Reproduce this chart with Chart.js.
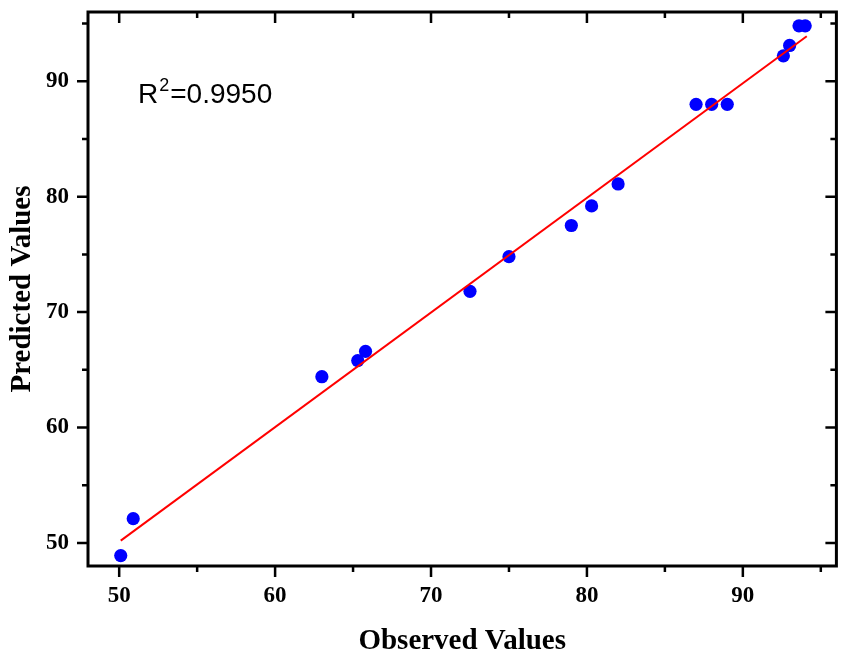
<!DOCTYPE html>
<html>
<head>
<meta charset="utf-8">
<script src="https://cdn.jsdelivr.net/npm/chart.js@4.4.1/dist/chart.umd.min.js"></script>
<style>
  html, body { margin: 0; padding: 0; background: #fff; }
  #wrap { width: 843px; height: 660px; }
</style>
</head>
<body>
<div id="wrap"><canvas id="myChart" width="843" height="660"></canvas></div>
<script>
// data
const observed  = [50.1, 50.9, 63.0, 65.3, 65.8, 72.5, 75.0, 79.0, 80.3, 82.0, 87.0, 88.0, 89.0, 92.6, 93.0, 93.6, 94.0];
const predicted = [48.9, 52.1, 64.4, 65.8, 66.6, 71.8, 74.8, 77.5, 79.2, 81.1, 88.0, 88.0, 88.0, 92.2, 93.1, 94.8, 94.8];
// fitted line ends
const fitX = [50.1, 94.1];
const fitY = [50.2, 93.9];
const xTicks = [50, 60, 70, 80, 90];
const yTicks = [50, 60, 70, 80, 90];
const xMinor = [55, 65, 75, 85, 95];
const yMinor = [55, 65, 75, 85, 95];
const r2Text = '0.9950';

const serif = '"Liberation Serif", "Times New Roman", serif';

const points = observed.map((v, i) => ({x: v, y: predicted[i]}));
const fitLine = fitX.map((v, i) => ({x: v, y: fitY[i]}));

// frame, ticks (major + minor) and the R^2 note
const framePlugin = {
  id: 'frame',
  afterDraw(chart) {
    const {ctx, chartArea: a, scales: {x, y}} = chart;
    ctx.save();
    ctx.strokeStyle = '#000';
    ctx.lineWidth = 2.5;
    ctx.beginPath();
    xTicks.forEach(v => {
      const px = x.getPixelForValue(v);
      ctx.moveTo(px, a.bottom); ctx.lineTo(px, a.bottom + 11);   // out
      ctx.moveTo(px, a.top); ctx.lineTo(px, a.top + 11);         // in
    });
    xMinor.forEach(v => {
      const px = x.getPixelForValue(v);
      ctx.moveTo(px, a.bottom); ctx.lineTo(px, a.bottom + 6);
      ctx.moveTo(px, a.top); ctx.lineTo(px, a.top + 6);
    });
    yTicks.forEach(v => {
      const py = y.getPixelForValue(v);
      ctx.moveTo(a.left, py); ctx.lineTo(a.left - 11, py);
      ctx.moveTo(a.right, py); ctx.lineTo(a.right - 11, py);
    });
    yMinor.forEach(v => {
      const py = y.getPixelForValue(v);
      ctx.moveTo(a.left, py); ctx.lineTo(a.left - 6, py);
      ctx.moveTo(a.right, py); ctx.lineTo(a.right - 6, py);
    });
    ctx.stroke();
    ctx.lineWidth = 3;
    ctx.strokeRect(a.left, a.top, a.right - a.left, a.bottom - a.top);

    // R^2 label
    ctx.fillStyle = '#000';
    ctx.textBaseline = 'alphabetic';
    ctx.textAlign = 'left';
    let tx = a.left + 50, ty = a.top + 91;
    ctx.font = '28px "Liberation Sans", Arial, sans-serif';
    ctx.fillText('R', tx, ty);
    tx += ctx.measureText('R').width + 1;
    ctx.font = '18px "Liberation Sans", Arial, sans-serif';
    ctx.fillText('2', tx, ty - 12);
    tx += ctx.measureText('2').width + 1;
    ctx.font = '28px "Liberation Sans", Arial, sans-serif';
    ctx.fillText('=' + r2Text, tx, ty);
    ctx.restore();
  }
};

const data = {
  datasets: [
    {
      type: 'line',
      label: 'Fit',
      data: fitLine,
      borderColor: '#ff0000',
      borderWidth: 2,
      pointRadius: 0,
      fill: false,
      order: 0
    },
    {
      type: 'scatter',
      label: 'Data',
      data: points,
      backgroundColor: '#0000ff',
      borderWidth: 0,
      pointRadius: 6.6,
      order: 1
    }
  ]
};

const config = {
  type: 'scatter',
  data,
  plugins: [framePlugin],
  options: {
    responsive: false,
    animation: false,
    layout: { padding: { top: 12, right: 5, left: 0, bottom: 0 } },
    plugins: { legend: { display: false }, tooltip: { enabled: false } },
    scales: {
      x: {
        type: 'linear',
        min: 48, max: 96,
        afterBuildTicks(scale) { scale.ticks = xTicks.map(v => ({value: v})); },
        afterFit(scale) { scale.height = 94; scale.paddingLeft = 0; scale.paddingRight = 0; },
        grid: { display: false, drawTicks: false },
        border: { display: false },
        ticks: { color: '#000', padding: 16, font: { family: serif, size: 23, weight: 'bold' } },
        title: {
          display: true, text: 'Observed Values', color: '#000',
          padding: { top: 0, bottom: 1 },
          font: { family: serif, size: 29, weight: 'bold' }
        }
      },
      y: {
        type: 'linear',
        min: 48, max: 96,
        afterBuildTicks(scale) { scale.ticks = yTicks.map(v => ({value: v})); },
        afterFit(scale) { scale.width = 88; scale.paddingTop = 0; scale.paddingBottom = 0; },
        grid: { display: false, drawTicks: false },
        border: { display: false },
        ticks: { color: '#000', padding: 19, font: { family: serif, size: 23, weight: 'bold' } },
        title: {
          display: true, text: 'Predicted Values', color: '#000',
          padding: { top: 5, bottom: 0 },
          font: { family: serif, size: 29, weight: 'bold' }
        }
      }
    }
  }
};

const ctx = document.getElementById('myChart');
const myChart = new Chart(ctx, config);
</script>
</body>
</html>
